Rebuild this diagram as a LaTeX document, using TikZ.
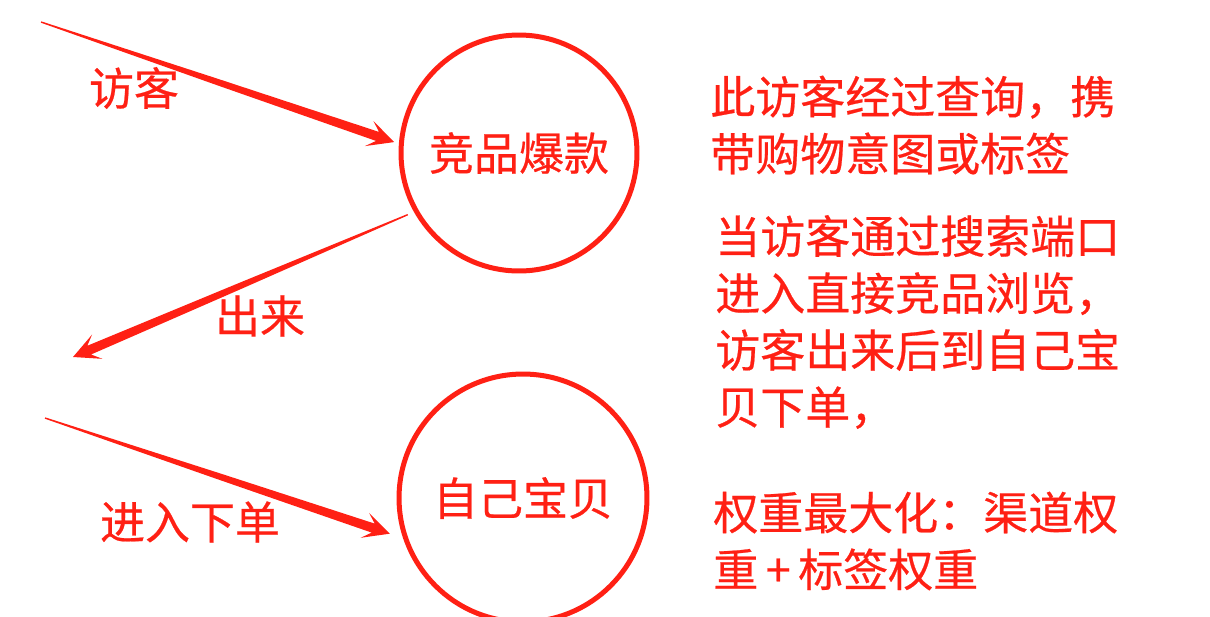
\documentclass[tikz,border=0pt]{standalone}
\usepackage{fontspec}
\setmainfont[FakeBold=0.5]{Noto Sans CJK SC}
\usetikzlibrary{calc,positioning}
\definecolor{mark}{RGB}{255,32,20}

\begin{document}
\begin{tikzpicture}[
    x=0.02cm, y=-0.02cm,
    word/.style={text=mark, inner sep=0pt, font=\fontsize{25.6pt}{32.4pt}\selectfont},
    spot/.style={circle, draw=mark, line width=0.1cm, inner sep=0pt, word},
    note/.style={word, align=left, anchor=west},
    taper/.style={fill=mark, to path={
        ($(\tikztostart)!0.4pt!90:(\tikztotarget)$)
        -- ($(\tikztostart)!0.5!(\tikztotarget)!1.8pt!90:(\tikztotarget)$)
        -- ($(\tikztotarget)!10pt!(\tikztostart)!2.7pt!-90:(\tikztostart)$)
        -- ($(\tikztotarget)!15pt!(\tikztostart)!7.5pt!-90:(\tikztostart)$)
        -- (\tikztotarget)
        -- ($(\tikztotarget)!15pt!(\tikztostart)!7.5pt!90:(\tikztostart)$)
        -- ($(\tikztotarget)!10pt!(\tikztostart)!2.7pt!90:(\tikztostart)$)
        -- ($(\tikztostart)!0.5!(\tikztotarget)!1.8pt!-90:(\tikztotarget)$)
        -- ($(\tikztostart)!0.4pt!-90:(\tikztotarget)$)
        -- cycle}}
]
\useasboundingbox (0,0) rectangle (1210,616);

% Two shops
\node[spot, minimum size=4.72cm] (hot) at (519,153) {竞品爆款};
\node[spot, minimum size=4.96cm] (own) at (523,498) {自己宝贝};

% Free ends of the arrows
\coordinate (visitIn) at (41,22);
\coordinate (inTip) at ($(hot.center)!1.04!(hot.175)$);
\coordinate (outStart) at ($(hot.center)!1.056!(hot.209)$);
\coordinate (outTip) at (73,357);
\coordinate (buyIn) at (45,418);
\coordinate (buyTip) at ($(own.center)!1.09!(own.195)$);

% Arrows
\path[taper] (visitIn) to (inTip);
\path[taper] (outStart) to (outTip);
\path[taper] (buyIn) to (buyTip);

% Arrow labels
\node[word] (visitLabel) at (134,88) {访客};
\node[word] (outLabel) at (260,316) {出来};
\node[word] (buyLabel) at (190,522) {进入下单};

% Notes on the right
\node[note] (query) at (710,125) {此访客经过查询，携\\带购物意图或标签};
\node[note] (search) at (715,322) {当访客通过搜索端口\\进入直接竞品浏览，\\访客出来后到自己宝\\贝下单，};
\node[note] (weight) at (713,541) {权重最大化：渠道权\\重\,+\,标签权重};

\end{tikzpicture}
\end{document}
